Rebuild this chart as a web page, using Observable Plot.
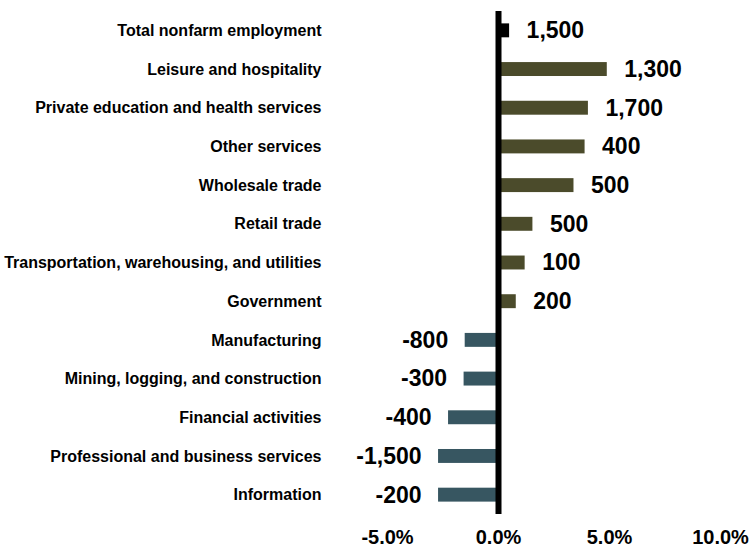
<!DOCTYPE html>
<html>
<head>
<meta charset="utf-8">
<script src="https://cdn.jsdelivr.net/npm/d3@7"></script>
<script src="https://cdn.jsdelivr.net/npm/@observablehq/plot@0.6"></script>
<style>
  html, body { margin: 0; padding: 0; background: #fff; }
  #chart svg { display: block; }
</style>
</head>
<body>
<div id="chart"></div>
<script>
const categories = [
  "Total nonfarm employment",
  "Leisure and hospitality",
  "Private education and health services",
  "Other services",
  "Wholesale trade",
  "Retail trade",
  "Transportation, warehousing, and utilities",
  "Government",
  "Manufacturing",
  "Mining, logging, and construction",
  "Financial activities",
  "Professional and business services",
  "Information"
];
const pctChange = [0.5, 4.9, 4.05, 3.9, 3.4, 1.55, 1.2, 0.8, -1.5, -1.55, -2.25, -2.7, -2.7];
const labels = ["1,500", "1,300", "1,700", "400", "500", "500", "100", "200", "-800", "-300", "-400", "-1,500", "-200"];
const groups = ["total", "pos", "pos", "pos", "pos", "pos", "pos", "pos", "neg", "neg", "neg", "neg", "neg"];
const xTicks = [-5, 0, 5, 10];

const data = categories.map((c, i) => ({ category: c, value: pctChange[i], label: labels[i], group: groups[i] }));

const chart = Plot.plot({
  width: 753,
  height: 549,
  marginTop: 11,
  marginBottom: 35,
  marginLeft: 387,
  marginRight: 33,
  style: { fontFamily: "Liberation Sans, Arial, sans-serif", background: "#fff" },
  x: { domain: [-5, 10], ticks: xTicks, tickFormat: d => d.toFixed(1) + "%", label: null },
  y: { domain: categories, paddingInner: 0.64, paddingOuter: 0.32, round: false, label: null },
  color: { domain: ["total", "pos", "neg"], range: ["#000000", "#4b4b2b", "#375661"] },
  marks: [
    Plot.barX(data, { y: "category", x1: 0, x2: "value", fill: "group" }),
    Plot.text(data.filter(d => d.value >= 0), {
      y: "category", x: "value", text: "label", textAnchor: "start", dx: 17,
      fontSize: 23, fontWeight: "bold", fill: "#000"
    }),
    Plot.text(data.filter(d => d.value < 0), {
      y: "category", x: "value", text: "label", textAnchor: "end", dx: -17,
      fontSize: 23, fontWeight: "bold", fill: "#000"
    }),
    Plot.ruleX([0], { stroke: "#000", strokeWidth: 6 }),
    Plot.axisY({ tickSize: 0, tickPadding: 66, fontSize: 16, fontWeight: "bold", label: null, fill: "#000" }),
    Plot.axisX({ ticks: xTicks, tickSize: 0, tickPadding: 15, fontSize: 20, fontWeight: "bold", label: null, fill: "#000", tickFormat: d => d.toFixed(1) + "%" })
  ]
});
document.getElementById("chart").appendChild(chart);
</script>
</body>
</html>
